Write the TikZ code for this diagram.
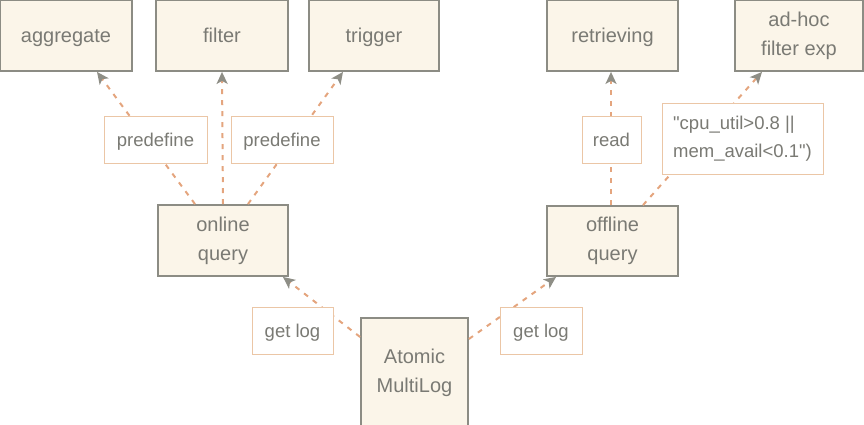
\documentclass[tikz,border=0pt]{standalone}
\usepackage{fontspec}
\setmainfont{Liberation Sans}
\newfontfamily\rawfont{Liberation Sans}
\usetikzlibrary{arrows.meta}
\definecolor{boxfill}{HTML}{FBF5E9}
\definecolor{boxline}{HTML}{8C8C84}
\definecolor{txt}{HTML}{7A7A74}
\definecolor{conncol}{HTML}{E4A57E}
\definecolor{lblline}{HTML}{EBC6A6}
\definecolor{tipgray}{HTML}{8E8E86}
\tikzset{
  x=1pt,y=1pt,
  mainbox/.style={draw=boxline, line width=1.8pt, fill=boxfill, text=txt,
    font=\fontsize{20}{29}\selectfont, align=center, inner sep=0pt},
  onel/.style={text height=15pt, text depth=0pt},
  lbl/.style={draw=lblline, line width=0.8pt, fill=white, text=txt,
    font=\fontsize{18.5}{28}\selectfont, align=center, inner sep=0pt, minimum height=47pt},
  connarrow/.style={draw=conncol, line width=2pt, dash pattern=on 5pt off 6pt,
    -{Stealth[length=12pt,width=11pt,inset=3pt,color=tipgray,fill=tipgray]}}
}
\begin{document}
\begin{tikzpicture}
\useasboundingbox (0,0) rectangle (864,424);
% main boxes
\node[mainbox, onel, minimum width=132pt, minimum height=71pt] (agg) at (66,388.5) {aggregate};
\node[mainbox, onel, minimum width=132pt, minimum height=71pt] (fil) at (222,388.5) {filter};
\node[mainbox, onel, minimum width=130pt, minimum height=71pt] (trg) at (374,388.5) {trigger};
\node[mainbox, onel, minimum width=131pt, minimum height=71pt] (ret) at (612.5,388.5) {retrieving};
\node[mainbox, minimum width=128pt, minimum height=71pt] (adh) at (799,388.5) {ad-hoc\\filter exp};
\node[mainbox, minimum width=130pt, minimum height=71pt] (onl) at (223,183.5) {online\\query};
\node[mainbox, minimum width=131pt, minimum height=70pt] (off) at (612.5,183) {offline\\query};
\node[mainbox, minimum width=107pt, minimum height=110pt] (atm) at (414.5,51) {Atomic\\MultiLog};
% connectors
\draw[connarrow] ([xshift=-28pt]onl.north) -- ([xshift=31pt]agg.south);
\draw[connarrow] (onl.north) -- (fil.south);
\draw[connarrow] ([xshift=25pt]onl.north) -- ([xshift=-31pt]trg.south);
\draw[connarrow] ([xshift=-1.5pt]off.north) -- ([xshift=-1.5pt]ret.south);
\draw[connarrow] ([xshift=30.5pt]off.north) -- ([xshift=-37pt]adh.south);
\draw[connarrow] ([yshift=36pt]atm.west) -- ([xshift=-6pt]onl.south east);
\draw[connarrow] ([yshift=34pt]atm.east) -- ([xshift=10pt]off.south west);
% labels
\node[lbl, onel, text height=14pt, minimum width=103pt] (p1) at (155.5,284.5) {predefine};
\node[lbl, onel, text height=14pt, minimum width=102pt] (p2) at (282,284.5) {predefine};
\node[lbl, onel, text height=14pt, minimum width=59pt] (rd) at (611.5,284.5) {read};
\node[lbl, minimum width=161pt, minimum height=71pt, align=left] (cpu) at (742.5,285.5) {\rawfont "cpu\_util>0.8 ||\\\rawfont mem\_avail<0.1")};
\node[lbl, onel, text height=14pt, minimum width=81pt] (g1) at (292.5,93.5) {get log};
\node[lbl, onel, text height=14pt, minimum width=82pt] (g2) at (541,93.5) {get log};
\end{tikzpicture}
\end{document}
